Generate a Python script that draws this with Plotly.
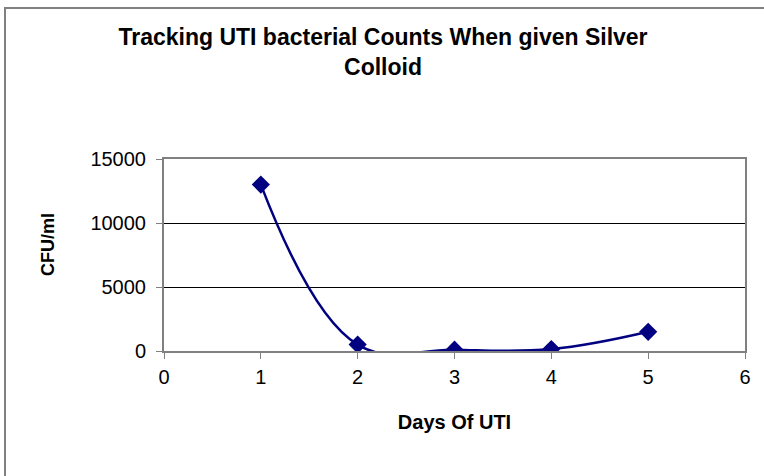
import plotly.graph_objects as go

days = [1, 2, 3, 4, 5]
cfu = [13000, 500, 100, 150, 1500]
x_ticks = [0, 1, 2, 3, 4, 5, 6]
y_ticks = [0, 5000, 10000, 15000]
title_text = "Tracking UTI bacterial Counts When given Silver<br>Colloid"
x_title = "Days Of UTI"
y_title = "CFU/ml"

W, H = 764, 476
L, R, T, B = 164, 19, 159, 125
pw, ph = W - L - R, H - T - B

fig = go.Figure()
fig.add_trace(go.Scatter(
    x=days, y=cfu, mode="lines+markers",
    line=dict(color="#000080", width=2.5, shape="spline", smoothing=1.15),
    marker=dict(symbol="diamond", size=14, color="#000080"),
    cliponaxis=True, showlegend=False,
))

font = "Arial, Liberation Sans, sans-serif"
fig.update_layout(
    width=W, height=H,
    margin=dict(l=L, r=R, t=T, b=B),
    paper_bgcolor="white", plot_bgcolor="white",
    font=dict(family=font, color="black", size=20),
    title=dict(text="<b>" + title_text + "</b>", x=383 / W, xanchor="center",
               y=1 - 45 / H, yanchor="top", font=dict(size=23, family=font)),
    xaxis=dict(range=[0, 6], tickvals=x_ticks, showgrid=False,
               zeroline=False, showline=True, linecolor="#808080", linewidth=2,
               mirror=True, ticks="outside", ticklen=6, tickcolor="#808080",
               tickfont=dict(size=20), ticklabelstandoff=1,
               title=dict(text="<b>" + x_title + "</b>", font=dict(size=20), standoff=28)),
    yaxis=dict(range=[0, 15000], tickvals=y_ticks, tickformat="d", showgrid=True,
               gridcolor="black", gridwidth=1, zeroline=False, showline=True,
               linecolor="#808080", linewidth=2, mirror=True, ticks="outside",
               ticklen=6, tickcolor="#808080", tickfont=dict(size=20),
               ticklabelstandoff=6),
)

# y-axis title
fig.add_annotation(text="<b>" + y_title + "</b>", textangle=-90,
                   xref="paper", yref="paper",
                   x=(48 - L) / pw, y=(351 - 245) / ph,
                   xanchor="center", yanchor="middle", showarrow=False,
                   font=dict(size=18, family=font))

# outer chart border
fig.add_shape(type="rect", xref="paper", yref="paper",
              x0=(5 - L) / pw, x1=(W + 5 - L) / pw,
              y0=-(H + 5 - T - ph) / ph, y1=(ph + T - 8) / ph,
              line=dict(color="#808080", width=2), fillcolor="rgba(0,0,0,0)", layer="below")

fig.write_html("out.html", config={"displayModeBar": False},
               post_script="document.body.style.margin='0';")
